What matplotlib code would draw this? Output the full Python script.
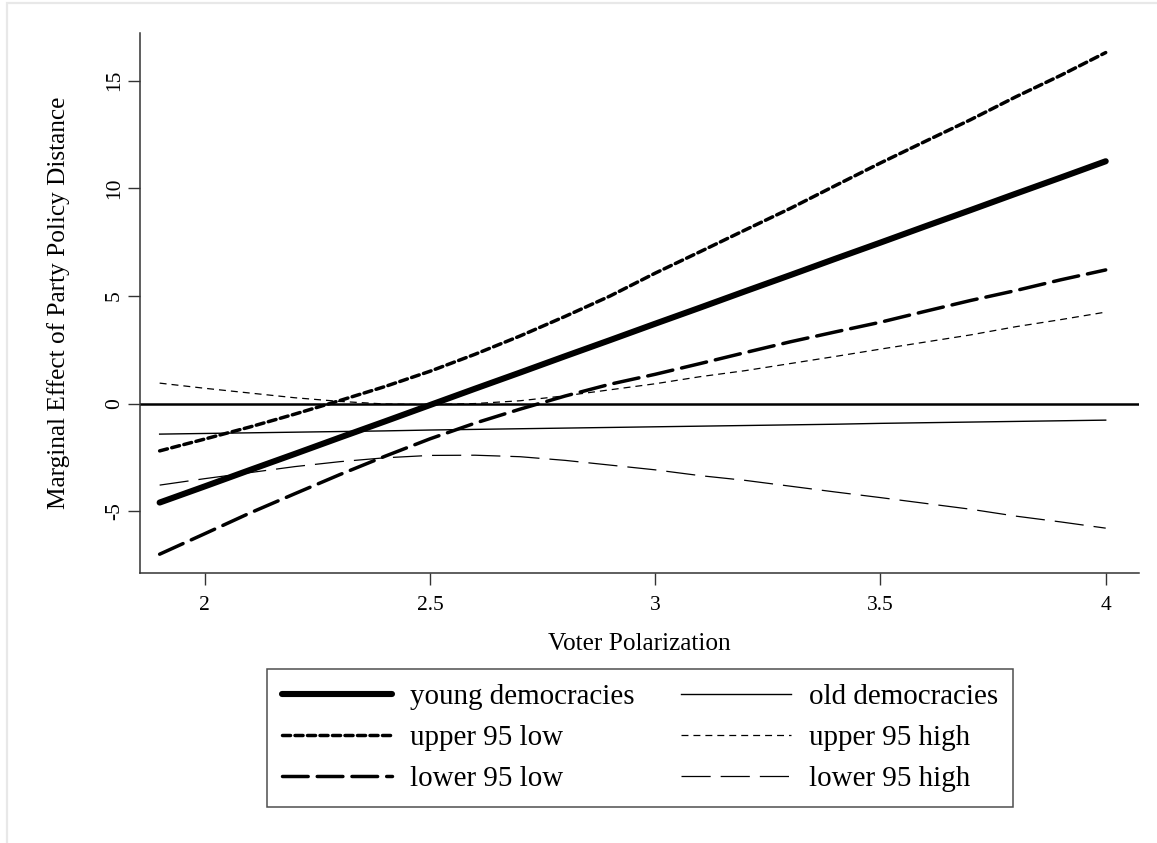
import matplotlib
matplotlib.use("Agg")
import matplotlib.pyplot as plt
from matplotlib.patches import Rectangle

plt.rcParams['font.family'] = ['Liberation Serif', 'DejaVu Serif']
plt.rcParams['lines.scale_dashes'] = False

# ---- data ----
voter_polarization = [1.9, 2.0, 2.1, 2.2, 2.3, 2.4, 2.5, 2.6, 2.7, 2.8, 2.9,
                      3.0, 3.1, 3.2, 3.3, 3.4, 3.5, 3.6, 3.7, 3.8, 3.9, 4.0]

young_democracies = [-4.60, -3.85, -3.09, -2.34, -1.58, -0.83, -0.07, 0.69, 1.44, 2.20, 2.95,
                     3.71, 4.46, 5.22, 5.97, 6.73, 7.48, 8.24, 8.99, 9.75, 10.50, 11.26]
upper_95_low = [-2.20, -1.65, -1.09, -0.49, 0.14, 0.79, 1.50, 2.29, 3.14, 4.05, 5.00,
                6.06, 7.06, 8.07, 9.07, 10.13, 11.18, 12.19, 13.19, 14.25, 15.25, 16.31]
lower_95_low = [-7.00, -6.05, -5.09, -4.19, -3.30, -2.45, -1.64, -0.91, -0.26, 0.35, 0.90,
                1.36, 1.86, 2.37, 2.87, 3.33, 3.78, 4.29, 4.79, 5.25, 5.75, 6.21]

old_democracies = [-1.42, -1.39, -1.36, -1.33, -1.30, -1.27, -1.23, -1.20, -1.17, -1.14, -1.11,
                   -1.08, -1.05, -1.02, -0.99, -0.96, -0.92, -0.89, -0.86, -0.83, -0.80, -0.77]
upper_95_high = [0.95, 0.71, 0.49, 0.27, 0.10, -0.02, -0.05, 0.00, 0.13, 0.36, 0.64,
                 0.92, 1.25, 1.53, 1.86, 2.19, 2.53, 2.86, 3.19, 3.57, 3.90, 4.25]
lower_95_high = [-3.79, -3.49, -3.21, -2.93, -2.70, -2.52, -2.41, -2.40, -2.47, -2.64, -2.86,
                 -3.08, -3.35, -3.57, -3.84, -4.11, -4.37, -4.64, -4.91, -5.23, -5.50, -5.79]

x_ticks = [2, 2.5, 3, 3.5, 4]
x_tick_labels = ["2", "2.5", "3", "3.5", "4"]
y_ticks = [-5, 0, 5, 10, 15]
y_tick_labels = ["-5", "0", "5", "10", "15"]

W, H = 1157, 843
fig = plt.figure(figsize=(W / 100, H / 100), dpi=100)

# light gray frame (top and left edges visible)
fig.patches.append(Rectangle((7 / W, -0.1), 1.2, 1 - 3 / H + 0.1, transform=fig.transFigure,
                             fill=False, edgecolor='#e8e8e8', linewidth=1.6, zorder=0))

ax = fig.add_axes([140 / W, 1 - 572.7 / H, (1139 - 140) / W, (572.7 - 33) / H])

h1, = ax.plot(voter_polarization, young_democracies, color='black', lw=4.4,
              solid_capstyle='round', label='young democracies')
h2, = ax.plot(voter_polarization, upper_95_low, color='black', lw=2.5,
              dashes=(5.8, 3.2), dash_capstyle='round', label='upper 95 low')
h3, = ax.plot(voter_polarization, lower_95_low, color='black', lw=2.5,
              dashes=(18.5, 6.5), dash_capstyle='round', label='lower 95 low')
h4, = ax.plot(voter_polarization, old_democracies, color='black', lw=1.0,
              label='old democracies')
h5, = ax.plot(voter_polarization, upper_95_high, color='black', lw=0.9,
              dashes=(5.0, 3.6), label='upper 95 high')
h6, = ax.plot(voter_polarization, lower_95_high, color='black', lw=0.9,
              dashes=(21, 7.2), label='lower 95 high')

ax.axhline(0, color='black', lw=1.8, zorder=1)

ax.set_xlim(1.8564, 4.0739)
ax.set_ylim(-7.86, 17.22)

for s in ['top', 'right']:
    ax.spines[s].set_visible(False)
for s in ['left', 'bottom']:
    ax.spines[s].set_linewidth(1.1)
    ax.spines[s].set_color('#333333')

ax.set_xticks(x_ticks)
ax.set_xticklabels(x_tick_labels)
ax.set_yticks(y_ticks)
ax.set_yticklabels(y_tick_labels, rotation=90, va='center')
ax.tick_params(axis='both', direction='out', length=8.5, width=1.0, color='#333333',
               labelsize=15.5)
ax.tick_params(axis='x', pad=8.5)
ax.tick_params(axis='y', pad=3)

ax.set_xlabel('Voter Polarization', fontsize=18.2, labelpad=13)
ax.set_ylabel('Marginal Effect of Party Policy Distance', fontsize=18.2, labelpad=25)

leg = fig.legend([h1, h2, h3, h4, h5, h6],
                 ['young democracies', 'upper 95 low', 'lower 95 low',
                  'old democracies', 'upper 95 high', 'lower 95 high'],
                 ncol=2, loc='upper center', bbox_to_anchor=(640 / W, 1 - 669 / H),
                 fontsize=20.9, frameon=True, fancybox=False, edgecolor='#222222',
                 handlelength=3.8, handletextpad=0.62, columnspacing=1.6,
                 labelspacing=0.5, borderpad=0.52, borderaxespad=0)
leg.get_frame().set_linewidth(1.1)

fig.savefig('out.png', dpi=100)
